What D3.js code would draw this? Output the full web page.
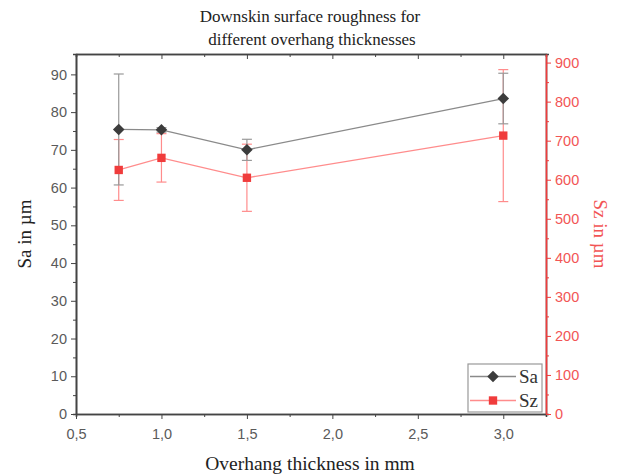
<!DOCTYPE html>
<html>
<head>
<meta charset="utf-8">
<script src="https://cdnjs.cloudflare.com/ajax/libs/d3/7.8.5/d3.min.js"></script>
<style>
body { margin: 0; background: #fff; }
svg text { font-family: "Liberation Sans", Arial, sans-serif; }
.serif { font-family: "Liberation Serif", "Times New Roman", serif !important; }
</style>
</head>
<body>
<div id="chart"></div>
<script>
// data
var thickness = [0.75, 1.0, 1.5, 3.0]
var saValues = [75.4, 75.3, 70.0, 83.6]
var saErrors = [14.7, 0.6, 2.8, 6.7]
var szValues = [625, 656, 605, 713]
var szErrors = [78, 62, 86, 169]
var xTicks = [0.5, 1.0, 1.5, 2.0, 2.5, 3.0]

var W = 618, H = 476
var margin = {top: 54, right: 72, bottom: 62, left: 76}
var width = W - margin.left - margin.right,
    height = H - margin.top - margin.bottom

var svg = d3.select("#chart").append("svg")
    .attr("width", W)
    .attr("height", H)

var g = svg.append("g")
    .attr("transform", "translate(" + margin.left + "," + margin.top + ")")

var x = d3.scaleLinear().domain([0.5, 3.25]).range([0, width])
var yL = d3.scaleLinear().domain([0, 95.4]).range([height, 0])
var yR = d3.scaleLinear().domain([0, 922]).range([height, 0])

var axisCol = "#444", labelCol = "#5a5a5a", red = "#f03c3c", redLight = "#ff8c8c", redText = "#f25555"
var fmt = d3.format(".1f")
function comma(v) { return fmt(v).replace(".", ",") }

// minor ticks first
g.append("g").attr("transform", "translate(0," + height + ")")
  .call(d3.axisBottom(x).tickValues(d3.range(0.75, 3.3, 0.5)).tickSize(3).tickFormat(""))
g.append("g").call(d3.axisTop(x).tickValues(d3.range(0.75, 3.3, 0.5)).tickSize(-3).tickFormat(""))
g.append("g").call(d3.axisLeft(yL).tickValues(d3.range(5, 95, 10)).tickSize(3).tickFormat(""))
g.append("g").attr("class", "rminor").attr("transform", "translate(" + width + ",0)")
  .call(d3.axisRight(yR).tickValues(d3.range(50, 920, 100)).tickSize(3).tickFormat(""))

// main axes
var xa = g.append("g").attr("transform", "translate(0," + height + ")")
  .call(d3.axisBottom(x).tickValues(xTicks).tickSize(5).tickSizeOuter(0).tickFormat(comma))
var xt = g.append("g")
  .call(d3.axisTop(x).tickValues(xTicks).tickSize(-5).tickSizeOuter(0).tickFormat(""))
var ya = g.append("g")
  .call(d3.axisLeft(yL).tickValues(d3.range(0, 91, 10)).tickSize(5).tickSizeOuter(0))
var yr = g.append("g").attr("transform", "translate(" + width + ",0)")
  .call(d3.axisRight(yR).tickValues(d3.range(0, 901, 100)).tickSize(5).tickSizeOuter(0))

g.selectAll(".domain, .tick line").attr("stroke", axisCol)
g.selectAll(".domain").attr("stroke-width", 1.6)
g.selectAll(".rminor .tick line").attr("stroke", red)
yr.selectAll(".domain, .tick line").attr("stroke", red)
g.selectAll(".tick text").attr("fill", labelCol).style("font-size", "14.5px")
yr.selectAll(".tick text").attr("fill", redText).attr("x", 9)
ya.selectAll(".tick text").attr("x", -9)
xa.selectAll(".tick text").attr("dy", "1.2em")

// error bars
function errBars(vals, errs, y, col) {
  var eb = g.append("g")
  thickness.forEach(function(t, i) {
    var cx = x(t), y0 = y(vals[i] - errs[i]), y1 = y(vals[i] + errs[i])
    eb.append("line").attr("x1", cx).attr("x2", cx).attr("y1", y0).attr("y2", y1)
      .attr("stroke", col).attr("stroke-width", 1.2)
    ;[y0, y1].forEach(function(yy) {
      eb.append("line").attr("x1", cx - 5).attr("x2", cx + 5).attr("y1", yy).attr("y2", yy)
        .attr("stroke", col).attr("stroke-width", 1.2)
    })
  })
}
errBars(szValues, szErrors, yR, redLight)
errBars(saValues, saErrors, yL, "#999")

var lineSa = d3.line().x(function(d, i) { return x(thickness[i]) }).y(function(d) { return yL(d) })
var lineSz = d3.line().x(function(d, i) { return x(thickness[i]) }).y(function(d) { return yR(d) })

g.append("path").datum(saValues).attr("d", lineSa).attr("fill", "none")
  .attr("stroke", "#8a8a8a").attr("stroke-width", 1.3)
g.append("path").datum(szValues).attr("d", lineSz).attr("fill", "none")
  .attr("stroke", redLight).attr("stroke-width", 1.3)

var diamond = d3.symbol().type(d3.symbolDiamond2).size(85)
var square = d3.symbol().type(d3.symbolSquare).size(70)

g.selectAll(".sa").data(saValues).enter().append("path")
  .attr("d", diamond)
  .attr("transform", function(d, i) { return "translate(" + x(thickness[i]) + "," + yL(d) + ")" })
  .attr("fill", "#3c3c3c")
g.selectAll(".sz").data(szValues).enter().append("path")
  .attr("d", square)
  .attr("transform", function(d, i) { return "translate(" + x(thickness[i]) + "," + yR(d) + ")" })
  .attr("fill", red)

// legend
var lg = g.append("g").attr("transform", "translate(" + (width - 78) + "," + (height - 50) + ")")
lg.append("rect").attr("width", 74).attr("height", 48).attr("fill", "#fff")
  .attr("stroke", "#999").attr("stroke-width", 1.2)
var items = [{name: "Sa", col: "#8a8a8a", fill: "#3c3c3c", sym: diamond},
             {name: "Sz", col: redLight, fill: red, sym: square}]
items.forEach(function(it, i) {
  var yy = 12.5 + i * 24
  lg.append("line").attr("x1", 2).attr("x2", 48).attr("y1", yy).attr("y2", yy)
    .attr("stroke", it.col).attr("stroke-width", 1.3)
  lg.append("path").attr("d", it.sym).attr("transform", "translate(25," + yy + ")").attr("fill", it.fill)
  lg.append("text").attr("class", "serif").attr("x", 51).attr("y", yy + 6)
    .style("font-size", "19px").attr("fill", "#333").text(it.name)
})

// titles
svg.append("text").attr("class", "serif").attr("x", 310).attr("y", 22)
  .attr("text-anchor", "middle").style("font-size", "17px").attr("fill", "#222")
  .text("Downskin surface roughness for")
svg.append("text").attr("class", "serif").attr("x", 312).attr("y", 45)
  .attr("text-anchor", "middle").style("font-size", "17px").attr("fill", "#222")
  .text("different overhang thicknesses")
svg.append("text").attr("class", "serif").attr("x", 310).attr("y", 470)
  .attr("text-anchor", "middle").style("font-size", "19.5px").attr("fill", "#222")
  .text("Overhang thickness in mm")
svg.append("text").attr("class", "serif")
  .attr("transform", "translate(31," + 234 + ") rotate(-90)")
  .attr("text-anchor", "middle").style("font-size", "19px").attr("fill", "#222")
  .text("Sa in µm")
svg.append("text").attr("class", "serif")
  .attr("transform", "translate(594," + 234 + ") rotate(90)")
  .attr("text-anchor", "middle").style("font-size", "19px").attr("fill", redText)
  .text("Sz in µm")
</script>
</body>
</html>
